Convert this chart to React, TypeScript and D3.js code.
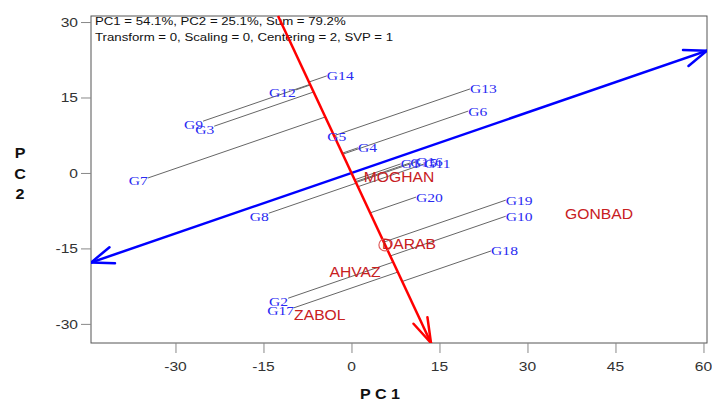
import React, { useRef, useEffect } from 'react';
import * as d3 from 'd3';

// Genotype scores (PC1, PC2).
const genotypeNames = ['G14', 'G12', 'G9', 'G3', 'G13', 'G6', 'G5', 'G4', 'G7', 'G1', 'G15', 'G16', 'G11', 'G20', 'G19', 'G10', 'G18', 'G8', 'G2', 'G17'];
const genotypePC1 = [-4.2, -9.5, -25.3, -23.4, 20.2, 19.9, -2.5, 1.1, -34.7, 8.4, 10.0, 11.0, 12.4, 11.0, 26.3, 26.3, 23.8, -14.1, -10.8, -9.8];
const genotypePC2 = [19.3, 16.5, 10.3, 9.3, 16.7, 12.3, 7.2, 5.0, -1.0, 1.8, 2.0, 2.2, 1.8, -4.8, -5.4, -8.6, -15.5, -8.0, -24.9, -26.8];

// Environment scores.
const envNames = ['MOGHAN', 'DARAB', 'AHVAZ', 'ZABOL', 'GONBAD'];
const envPC1 = [8.1, 9.8, 0.6, -5.4, 42.2];
const envPC2 = [-0.8, -14.1, -19.7, -28.2, -8.1];

// Average environment axis direction and the marker on the ordinate.
const aecDirection = [1, 0.401];
const avgMarker = [5.7, -14.3];

const xTicks = [-30, -15, 0, 15, 30, 45, 60];
const yTicks = [-30, -15, 0, 15, 30];
const infoLines = [
  'PC1 = 54.1%, PC2 = 25.1%, Sum = 79.2%',
  'Transform = 0, Scaling = 0, Centering = 2, SVP = 1'
];

const App = () => {
  const ref = useRef<SVGSVGElement>(null);

  useEffect(() => {
    const svg = d3.select(ref.current);
    svg.selectAll('*').remove();

    const left = 91, right = 707, top = 16, bottom = 343;
    const x = d3.scaleLinear().domain([-44.4, 60.6]).range([left, right]);
    const y = d3.scaleLinear().domain([-33.8, 31.2]).range([bottom, top]);
    const [xMin, xMax] = x.domain();
    const [yMin, yMax] = y.domain();

    const font = 'Arial, "Liberation Sans", sans-serif';
    const serif = '"Liberation Serif", "DejaVu Serif", serif';

    // the original picture is a bit stretched sideways, so text is too
    const label = (parent: any, px: number, py: number, text: string, stretch: number) =>
      parent.append('text')
        .attr('transform', `translate(${px},${py}) scale(${stretch},1)`)
        .text(text);

    svg.append('defs').append('clipPath').attr('id', 'plotclip')
      .append('rect').attr('x', left).attr('y', top - 2)
      .attr('width', right - left).attr('height', bottom - top + 2);

    // frame
    svg.append('rect')
      .attr('x', left).attr('y', top)
      .attr('width', right - left).attr('height', bottom - top)
      .attr('fill', 'none').attr('stroke', '#555').attr('stroke-width', 1);

    // ticks through d3 axes, labels redrawn stretched
    const xAxis = svg.append('g').attr('transform', `translate(0,${bottom})`)
      .call(d3.axisBottom(x).tickValues(xTicks).tickSize(10).tickFormat(() => ''));
    xAxis.select('.domain').remove();
    xAxis.selectAll('line').attr('stroke', '#888');
    xTicks.forEach(t => {
      label(svg, x(t), 371, String(t), 1.2)
        .attr('text-anchor', 'middle').attr('font-size', 13).attr('font-family', font).attr('fill', '#333');
    });

    const yAxis = svg.append('g').attr('transform', `translate(${left},0)`)
      .call(d3.axisLeft(y).tickValues(yTicks).tickSize(10).tickFormat(() => ''));
    yAxis.select('.domain').remove();
    yAxis.selectAll('line').attr('stroke', '#888');
    yTicks.forEach(t => {
      label(svg, left - 13, y(t) + 4.8, String(t), 1.2)
        .attr('text-anchor', 'end').attr('font-size', 13).attr('font-family', font).attr('fill', '#333');
    });

    // axis titles
    label(svg, 380, 399, 'P C 1', 1.15)
      .attr('text-anchor', 'middle').attr('font-size', 14).attr('font-weight', 'bold')
      .attr('font-family', font).attr('fill', '#111');
    ['P', 'C', '2'].forEach((ch, i) => {
      label(svg, 20, 158 + i * 20.5, ch, 1.15)
        .attr('text-anchor', 'middle').attr('font-size', 14).attr('font-weight', 'bold')
        .attr('font-family', font).attr('fill', '#111');
    });

    // info text
    infoLines.forEach((t, i) => {
      label(svg, 95, 25 + i * 15.5, t, 1.15)
        .attr('font-size', 11.5).attr('font-family', font).attr('fill', '#111');
    });

    const plot = svg.append('g').attr('clip-path', 'url(#plotclip)');

    // ordinate direction (perpendicular to the average environment axis)
    const [ax, ay] = aecDirection;
    const norm = Math.hypot(ax, ay);
    const u = [ay / norm, -ax / norm];

    // projection lines from genotypes onto the ordinate
    genotypeNames.forEach((name, i) => {
      const gx = genotypePC1[i], gy = genotypePC2[i];
      const t = gx * u[0] + gy * u[1];
      plot.append('line')
        .attr('x1', x(gx)).attr('y1', y(gy))
        .attr('x2', x(t * u[0])).attr('y2', y(t * u[1]))
        .attr('stroke', '#666').attr('stroke-width', 1);
    });

    const arrowHead = (px: number, py: number, dx: number, dy: number, color: string, len: number, spread: number) => {
      const ang = Math.atan2(dy, dx);
      [ang + Math.PI - spread, ang + Math.PI + spread].forEach(a => {
        plot.append('line')
          .attr('x1', px).attr('y1', py)
          .attr('x2', px + len * Math.cos(a)).attr('y2', py + len * Math.sin(a))
          .attr('stroke', color).attr('stroke-width', 2.5).attr('stroke-linecap', 'round');
      });
    };

    // average environment axis (blue)
    const bx1 = xMin, by1 = xMin * ay / ax;
    const bx2 = xMax, by2 = xMax * ay / ax;
    plot.append('line')
      .attr('x1', x(bx1)).attr('y1', y(by1)).attr('x2', x(bx2)).attr('y2', y(by2))
      .attr('stroke', '#0000ff').attr('stroke-width', 2.5);
    arrowHead(x(bx2), y(by2), x(bx2) - x(bx1), y(by2) - y(by1), '#0000ff', 24, 0.36);
    arrowHead(x(bx1), y(by1), x(bx1) - x(bx2), y(by1) - y(by2), '#0000ff', 24, 0.36);

    // ordinate (red)
    const rx1 = yMax * u[0] / u[1], ry1 = yMax;
    const rx2 = yMin * u[0] / u[1], ry2 = yMin;
    plot.append('line')
      .attr('x1', x(rx1)).attr('y1', y(ry1)).attr('x2', x(rx2)).attr('y2', y(ry2))
      .attr('stroke', '#ff0000').attr('stroke-width', 2.5);
    arrowHead(x(rx2), y(ry2), x(rx2) - x(rx1), y(ry2) - y(ry1), '#ff0000', 26, 0.3);

    plot.append('circle')
      .attr('cx', x(avgMarker[0])).attr('cy', y(avgMarker[1])).attr('r', 6)
      .attr('fill', 'none').attr('stroke', '#e06060').attr('stroke-width', 1.2);

    // environment labels
    envNames.forEach((name, i) => {
      label(plot, x(envPC1[i]), y(envPC2[i]) + 5, name, 1.12)
        .attr('text-anchor', 'middle')
        .attr('font-size', 14).attr('font-family', font).attr('fill', '#c8201e');
    });

    // genotype labels: beside the point, on the side away from the ordinate
    genotypeNames.forEach((name, i) => {
      const gx = genotypePC1[i], gy = genotypePC2[i];
      const side = (gx * ax + gy * ay) / norm;
      let anchor = 'middle', off = 4.5;
      if (side > 1) { anchor = 'start'; off = 4.5; }
      else if (side < -1) { anchor = 'end'; off = 7.5; }
      label(plot, x(gx), y(gy) + off, name, 1.2)
        .attr('text-anchor', anchor)
        .attr('font-size', 13).attr('font-family', serif).attr('fill', '#2a2af2');
    });
  }, []);

  return <svg ref={ref} width={712} height={401} style={{ position: 'absolute', left: 0, top: 0 }}></svg>;
};

export default App;
